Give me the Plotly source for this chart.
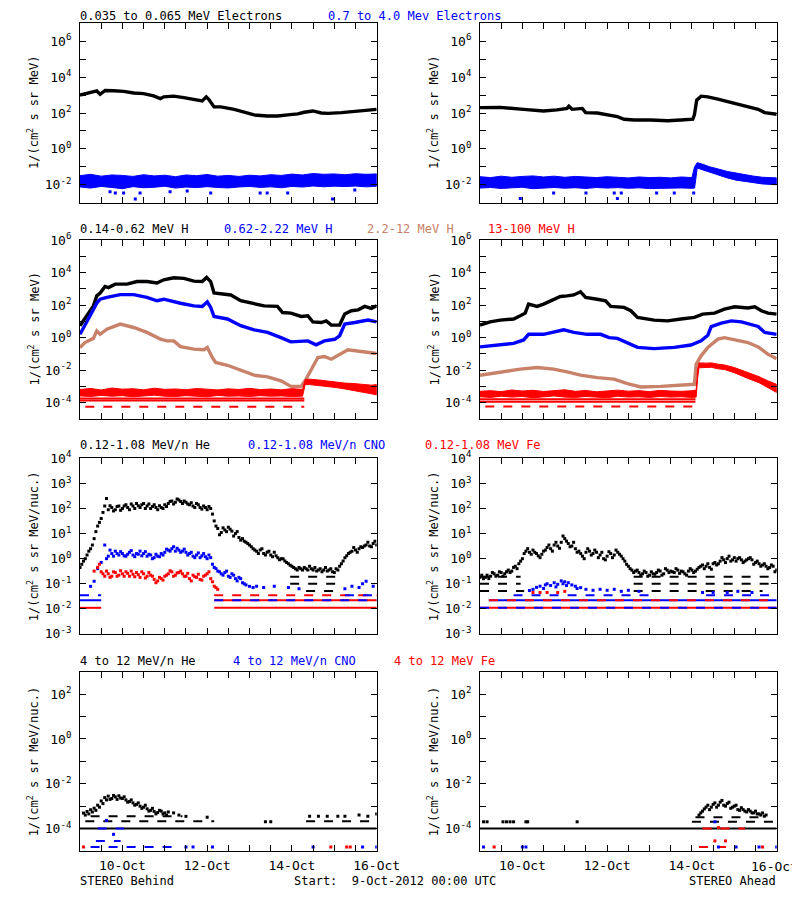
import plotly.graph_objects as go
from datetime import datetime, timedelta

START = datetime(2012, 10, 9)

# ================= DATA (hours since 9-Oct-2012 00:00 UTC, fluxes) =================
# ---- Row 1: electrons ----
beh_elo_h = [0,3.8,7.6,9.5,11.4,14.2,19,24.7,30.4,36,41.7,45.5,47.4,53,58.8,64.5,69.2,71.5,73,75.9,79.7,87.3,93,98.6,106,112,117.6,123.3,127,131.8,136.6,140.4,148,155.6,163,168]
beh_elo = [1.0e3,1.26e3,1.6e3,1.7e3,1.1e3,1.8e3,1.75e3,1.6e3,1.3e3,1.2e3,9.0e2,6.3e2,8.0e2,8.7e2,7.2e2,5.6e2,4.7e2,7.9e2,5.6e2,2.2e2,2.2e2,1.6e2,1.1e2,7.8e1,6.8e1,6.8e1,7.9e1,9.0e1,1.1e2,1.3e2,1.0e2,9.5e1,1.05e2,1.25e2,1.4e2,1.6e2]

beh_ehi_h = [0,6,12,18,24,30,36,42,48,54,60,66,72,78,84,90,96,102,108,114,120,126,132,138,144,150,156,162,168]
beh_ehi_up = [3.2e-2,3.8e-2,3.0e-2,3.5e-2,3.3e-2,2.9e-2,3.6e-2,3.1e-2,3.4e-2,2.8e-2,3.5e-2,3.2e-2,3.7e-2,3.0e-2,3.3e-2,2.9e-2,3.4e-2,3.1e-2,3.6e-2,3.3e-2,3.9e-2,3.5e-2,4.2e-2,3.8e-2,4.0e-2,3.6e-2,4.1e-2,3.8e-2,4.0e-2]
beh_ehi_lo = [7.5e-3,6.5e-3,8.0e-3,7.0e-3,6.0e-3,7.8e-3,6.8e-3,7.2e-3,8.2e-3,6.5e-3,7.4e-3,6.9e-3,7.8e-3,7.0e-3,6.6e-3,7.5e-3,8.0e-3,7.1e-3,7.6e-3,6.8e-3,8.0e-3,7.4e-3,8.5e-3,7.7e-3,8.3e-3,7.9e-3,8.4e-3,7.6e-3,8.2e-3]
beh_ehi_out_h = [17,20,24.7,31.3,34,51,60.7,74,102,106,117.6,143,155.6]
beh_ehi_out = [4e-3,3.5e-3,3.5e-3,1.6e-3,3.5e-3,4e-3,4.5e-3,3.5e-3,3.5e-3,3.5e-3,3.5e-3,1.6e-3,5e-3]

ahd_elo_h = [0,11.4,24.7,36,43.6,49.3,50.3,52.2,57.9,59.8,66.4,72,77.8,81.6,87.3,96.7,106.2,113.8,120.5,121.4,122.7,125.2,129,134.7,144.2,153.7,157.5,161.2,168]
ahd_elo = [2.0e2,2.05e2,1.6e2,1.3e2,1.5e2,1.8e2,2.4e2,1.6e2,1.8e2,1.05e2,1.0e2,7.8e1,6.3e1,4.5e1,4.1e1,4.1e1,3.7e1,4.1e1,4.5e1,7.8e1,5.2e2,8.7e2,8.0e2,6.0e2,3.5e2,2.0e2,1.6e2,1.05e2,8.5e1]

ahd_ehi_h = [0,6,12,18,24,30,36,42,48,54,60,66,72,78,84,90,96,102,108,114,120,121.5,123,126,130,135,140,145,150,155,160,165,168]
ahd_ehi_up = [2.8e-2,2.5e-2,3.0e-2,2.6e-2,2.9e-2,3.1e-2,2.7e-2,3.0e-2,2.6e-2,2.9e-2,2.7e-2,2.5e-2,2.8e-2,2.6e-2,2.4e-2,2.7e-2,2.5e-2,2.6e-2,2.4e-2,2.7e-2,2.5e-2,1.0e-1,1.7e-1,1.4e-1,1.0e-1,7.5e-2,5.5e-2,4.5e-2,3.6e-2,3.0e-2,2.6e-2,2.4e-2,2.4e-2]
ahd_ehi_lo = [6.5e-3,7.0e-3,6.2e-3,6.8e-3,7.2e-3,6.0e-3,6.6e-3,7.0e-3,6.4e-3,6.8e-3,6.2e-3,7.0e-3,6.5e-3,6.9e-3,6.3e-3,6.7e-3,6.1e-3,6.8e-3,6.4e-3,6.6e-3,6.3e-3,6.5e-3,8.5e-2,7.0e-2,4.8e-2,3.4e-2,2.4e-2,1.8e-2,1.5e-2,1.3e-2,1.1e-2,1.0e-2,1.0e-2]
ahd_ehi_out_h = [22.8,41.7,60,76,77.8,80,100,110,121]
ahd_ehi_out = [1.7e-3,3.5e-3,3.5e-3,3.5e-3,1.7e-3,3.5e-3,3.5e-3,3.5e-3,3.5e-3]

# ---- Row 2: protons ----
beh_h1_h = [0,1.9,4.7,7.6,9.5,11.4,14.2,16.1,19.9,26.6,32.3,37.9,43.6,47.4,53.1,58.8,64.5,69.2,71.7,74,75.9,79.7,85.4,91,96.7,104.3,111.8,114.7,119.4,125.2,129,131.8,136.6,139.4,142.3,147,149.9,153.7,157.5,161.2,165,168]
beh_h1 = [5.4,11,35,90,370,550,1400,1200,1950,1950,2800,2800,2300,3600,4800,4400,3000,2800,5000,2800,550,480,420,185,130,90,83,35,32,20,22,9.3,8.5,10.7,5.9,5.9,28,45,51,83,63,90]
beh_h2_h = [0,2.8,5.7,9.5,11.4,15.2,22.8,30.4,37.9,43.6,47.4,56.9,64.5,69.2,72.1,74,75.9,83.5,91,98.6,106.2,113.8,119.4,129,133.7,138.4,144.2,147,149.9,155.6,163.1,168]
beh_h2 = [1.6,5.4,22,130,230,300,440,440,300,185,230,130,90,83,160,72,20,14,5.4,3.0,2.1,1.0,0.55,0.63,0.36,0.63,0.79,1.3,6.8,8.5,12,9.3]
beh_h3_h = [0,2.8,7.6,9.5,11.4,15.2,22.8,30.4,37.9,45.5,49.3,53.1,56.9,64.5,70.2,72.1,74.9,76.8,83.5,91,98.6,106.2,113.8,119.4,125.2,128,130.9,134.7,138.4,142.3,151.7,159.3,168]
beh_h3 = [0.25,0.5,0.9,2.6,1.6,3.3,6.8,4.2,2.1,0.81,0.63,0.63,0.28,0.195,0.18,0.25,0.06,0.03,0.02,0.0105,0.0049,0.0039,0.0022,0.001,0.001,0.0028,0.0115,0.06,0.069,0.047,0.18,0.135,0.105]
beh_h4_h = [0,6,12,18,24,30,36,42,48,54,60,66,72,78,84,90,96,102,108,114,120,126,127.5,130,135,140,145,150,155,160,165,168]
beh_h4_up = [6.5e-4,7.5e-4,6.0e-4,8.0e-4,6.8e-4,7.2e-4,6.2e-4,7.8e-4,6.6e-4,7.0e-4,6.3e-4,7.4e-4,6.8e-4,6.1e-4,7.1e-4,6.5e-4,7.6e-4,6.4e-4,6.9e-4,6.2e-4,7.3e-4,6.6e-4,2.6e-3,2.8e-3,2.5e-3,2.1e-3,1.8e-3,1.6e-3,1.5e-3,1.3e-3,1.2e-3,1.3e-3]
beh_h4_lo = [2.6e-4,2.4e-4,2.8e-4,2.5e-4,2.7e-4,2.3e-4,2.6e-4,2.9e-4,2.5e-4,2.4e-4,2.7e-4,2.6e-4,2.3e-4,2.8e-4,2.5e-4,2.6e-4,2.4e-4,2.7e-4,2.5e-4,2.6e-4,2.4e-4,2.5e-4,1.3e-3,1.3e-3,1.2e-3,1.0e-3,8.5e-4,7.0e-4,5.5e-4,4.5e-4,3.5e-4,3.0e-4]
beh2_floors_solid = [(0,127,1.8e-4,'H4'), (0,127,1.35e-4,'H4')]
beh2_floors_dashed = [(3,127,5.7e-5,'H4')]

ahd_h1_h = [0,5.7,11.4,19,22.8,25.6,27.5,32.3,36,39.8,45.5,49.3,53.1,56.9,59.8,66.4,71.1,74,81.6,85.4,89.2,98.6,106.2,113.8,121.4,126.1,132.8,138.4,144.2,151.7,155.6,159.3,163.1,168]
ahd_h1 = [5.9,9.3,12,14,22,32,115,83,115,185,340,370,420,660,300,230,185,83,72,45,17.5,12,10.7,14,17.5,28,32,56,79,66,79,45,32,28]
ahd_h2_h = [0,11.4,19,24.7,27.5,36,43.6,47.4,53.1,60.7,68.3,73.1,77.8,85.4,89.2,98.6,110,119.4,125.2,129,130.9,136.6,142.3,148,153.7,157.5,161.2,168]
ahd_h2 = [0.27,0.35,0.44,0.72,1.6,1.6,2.3,3.0,2.1,1.6,1.6,1.0,0.9,0.4,0.25,0.21,0.25,0.35,0.63,1.4,4.7,7.8,10.7,9.3,6.8,4.9,2.1,1.6]
ahd_h3_h = [0,11.4,22.8,32.3,41.7,49.3,56.9,66.4,75.9,83.5,91,102.4,115.7,121.4,122.4,125.2,129,134.7,138.4,144.2,151.7,157.5,163.1,168]
ahd_h3 = [0.0049,0.0078,0.0115,0.0145,0.0115,0.0078,0.0049,0.0035,0.0028,0.0015,0.00093,0.001,0.0012,0.00135,0.023,0.076,0.25,0.81,1.0,0.72,0.5,0.27,0.095,0.051]
ahd_h4_h = [0,6,12,18,24,30,36,42,48,54,60,66,72,78,84,90,96,102,108,114,120,122.4,123.2,124,128,131,135,138.4,144,148,152,158,163,168]
ahd_h4_up = [5.0e-4,5.5e-4,4.8e-4,6.0e-4,5.2e-4,5.8e-4,4.9e-4,5.4e-4,6.2e-4,5.0e-4,5.6e-4,4.7e-4,5.3e-4,5.9e-4,5.1e-4,5.5e-4,4.8e-4,5.7e-4,5.2e-4,5.0e-4,5.4e-4,6e-4,1.2e-2,2.8e-2,2.7e-2,2.8e-2,2.3e-2,2.1e-2,1.45e-2,1.0e-2,6.5e-3,4.0e-3,2.2e-3,1.35e-3]
ahd_h4_lo = [2.3e-4,2.1e-4,2.5e-4,2.2e-4,2.4e-4,2.0e-4,2.3e-4,2.6e-4,2.2e-4,2.1e-4,2.4e-4,2.3e-4,2.0e-4,2.5e-4,2.2e-4,2.3e-4,2.1e-4,2.4e-4,2.2e-4,2.3e-4,2.1e-4,2.2e-4,3e-3,1.4e-2,1.4e-2,1.5e-2,1.2e-2,1.1e-2,7e-3,4.5e-3,3.0e-3,1.7e-3,8.5e-4,4.2e-4]
ahd2_floors_solid = [(0,122,1.6e-4,'H4'), (0,122,1.15e-4,'H4')]
ahd2_floors_dashed = [(3,122,5.8e-5,'H4')]

# ---- Row 3: 0.12-1.08 MeV/n ions ----
he_even_h = list(range(0, 169, 2))
he_odd_h = list(range(1, 168, 2))
beh_he_even = [0.45,0.8,1.4,2.5,6.3,20,40,125,90,110,90,125,100,140,90,125,160,110,160,125,100,140,90,110,140,160,200,180,220,160,180,140,125,160,110,125,90,100,32,16,11,14,18,12.6,10,7,6.3,4.5,3.5,2.5,2.0,2.2,1.6,1.8,1.4,1.8,1.1,1.0,0.8,0.63,0.5,0.4,0.45,0.35,0.4,0.5,0.35,0.32,0.4,0.35,0.32,0.4,0.28,0.35,0.63,1.1,1.6,2.0,2.2,2.5,2.8,3.5,3.2,4.0,3.5]
beh_he_odd = [0.6,1.0,2.0,3.5,12,28,70,250,130,80,120,85,125,110,150,100,130,140,100,150,120,110,130,100,120,190,150,240,190,200,150,170,110,140,95,110,120,60,20,9,17,12,15,8,12,5.5,5,4,3,2.2,1.6,2.5,1.4,2.0,1.2,1.3,0.9,1.0,0.7,0.55,0.45,0.35,0.4,0.45,0.35,0.4,0.45,0.35,0.3,0.45,0.35,0.3,0.4,0.5,0.8,1.3,1.8,2.8,1.8,3.0,3.2,4.5,3.0,5.0]
beh_cno_h = list(range(6, 101, 2))
beh_cno = [0.079,0.126,0.4,0.71,3.5,1.26,1.6,2.0,1.4,1.6,1.26,1.8,1.4,1.6,2.0,1.6,1.26,1.4,1.1,1.26,1.6,1.8,2.2,2.5,2.0,2.2,2.0,1.8,1.6,1.26,1.4,1.1,1.6,1.0,1.1,0.45,0.32,0.25,0.28,0.2,0.25,0.16,0.18,0.11,0.09,0.079,0.071,0.079]
beh_cno2_h = list(range(15, 94, 2))
beh_cno2 = [1.0,2.2,1.26,1.6,1.9,1.3,1.5,2.1,1.2,1.5,1.3,1.9,1.5,1.0,1.5,1.2,1.4,2.4,2.0,3.0,2.6,1.8,2.4,1.4,1.8,1.1,1.7,1.3,1.2,1.4,0.6,0.4,0.3,0.22,0.32,0.18,0.22,0.13,0.16,0.1]
beh_cno_sp_h = [104,110,118,124,150,154,158,160,162,166]
beh_cno_sp = [0.071,0.079,0.071,0.063,0.063,0.079,0.071,0.1,0.126,0.079]
beh_fe_h = list(range(8, 79, 2))
beh_fe = [0.32,0.45,0.3,0.2,0.25,0.2,0.28,0.22,0.25,0.3,0.2,0.24,0.28,0.18,0.25,0.2,0.22,0.15,0.13,0.16,0.2,0.25,0.3,0.22,0.28,0.25,0.2,0.16,0.22,0.18,0.15,0.2,0.25,0.16,0.08,0.06]
beh_fe2_h = list(range(11, 78, 2))
beh_fe2 = [0.6,0.25,0.32,0.18,0.3,0.2,0.33,0.2,0.26,0.32,0.19,0.23,0.3,0.17,0.28,0.2,0.11,0.18,0.14,0.22,0.33,0.2,0.27,0.32,0.2,0.26,0.13,0.19,0.24,0.14,0.22,0.3,0.12,0.07]
beh3_floors_solid = [(0,12,0.022,'CNO'), (0,12,0.011,'Fe'), (76,168,0.022,'Fe'), (76,168,0.011,'Fe')]
beh3_floors_dashed = [(0,12,0.035,'CNO'), (76,168,0.035,'Fe'), (150,168,0.035,'CNO'), (76,168,0.022,'CNO'),
                      (119,147,0.19,'He'), (119,147,0.1,'He'), (128,147,0.051,'He')]

ahd_he_even = [0.18,0.16,0.22,0.2,0.25,0.22,0.28,0.25,0.35,0.32,0.5,0.63,1.0,2.0,1.8,2.2,1.6,1.1,2.0,2.8,2.5,3.5,3.2,4.5,6.3,4.0,3.2,2.5,2.0,1.26,1.8,2.0,1.6,1.8,1.4,1.0,1.26,1.6,1.4,1.8,1.26,0.8,0.5,0.35,0.32,0.28,0.25,0.28,0.22,0.25,0.28,0.32,0.25,0.35,0.32,0.28,0.35,0.32,0.25,0.32,0.35,0.32,0.45,0.56,0.5,0.45,0.63,0.56,0.8,0.9,1.0,0.8,1.1,1.0,0.9,0.8,1.0,0.9,0.7,0.63,0.56,0.5,0.45,0.5,0.35]
ahd_he_odd = [0.22,0.18,0.16,0.28,0.2,0.3,0.2,0.3,0.28,0.45,0.4,0.8,1.6,2.5,1.5,1.8,1.3,1.5,2.2,3.5,2.0,4.5,2.6,8.0,5.0,3.0,4.5,1.8,1.6,1.0,2.5,1.4,2.2,1.1,1.8,0.9,1.9,1.1,2.2,1.5,1.0,0.6,0.4,0.28,0.35,0.22,0.32,0.2,0.3,0.24,0.35,0.22,0.4,0.28,0.3,0.4,0.26,0.3,0.22,0.4,0.28,0.38,0.5,0.4,0.63,0.38,0.7,0.63,1.1,0.7,1.26,0.9,0.8,1.1,0.7,0.9,1.1,0.6,0.8,0.5,0.63,0.4,0.56,0.3]
ahd_cno_h = [28,30,32,34,36,37,38,40,42,43,44,46,47,48,49,50,52,54,55,57,60,64,68,72,76,80,84,90,126,132,140,146,154]
ahd_cno = [0.054,0.06,0.072,0.08,0.065,0.09,0.1,0.085,0.11,0.075,0.095,0.13,0.1,0.12,0.085,0.11,0.09,0.08,0.065,0.07,0.06,0.055,0.06,0.055,0.06,0.05,0.055,0.05,0.045,0.045,0.045,0.05,0.045]
ahd_fe_h = [30,34,38,44,48]
ahd_fe = [0.045,0.045,0.045,0.045,0.05]
ahd3_floors_solid = [(0,168,0.011,'Fe'), (5,168,0.022,'CNO')]
ahd3_floors_dashed = [(0,168,0.011,'CNO'), (5,168,0.022,'Fe'), (19,100,0.035,'CNO'), (128,168,0.035,'CNO'),
                      (0,23,0.19,'He'), (87,168,0.19,'He'), (0,23,0.1,'He'), (87,168,0.1,'He'),
                      (0,25,0.051,'He'), (87,160,0.051,'He')]

# ---- Row 4: 4-12 MeV/n ions ----
beh_he4_h = list(range(2, 51))
beh_he4 = [4.9e-4,4.0e-4,5.8e-4,4.5e-4,6.9e-4,5.5e-4,8.1e-4,6.5e-4,1.1e-3,9e-4,1.7e-3,1.3e-3,2.4e-3,1.9e-3,2.8e-3,2.0e-3,2.2e-3,3.0e-3,2.6e-3,2.0e-3,2.9e-3,2.3e-3,2.2e-3,2.6e-3,1.9e-3,1.5e-3,1.6e-3,1.9e-3,1.4e-3,1.1e-3,1.2e-3,1.4e-3,1.0e-3,8e-4,9.0e-4,1.1e-3,7.6e-4,6e-4,6.5e-4,8e-4,5.8e-4,4.5e-4,5.2e-4,6.5e-4,6.0e-4,4.5e-4,5.0e-4,4.0e-4,5.5e-4]
beh_he4_sp_h = [53,56,60,72,105,108,130,135,140,146,150,158,163,168]
beh_he4_sp = [5e-4,4e-4,3.5e-4,3.2e-4,2e-4,2e-4,3.5e-4,3.5e-4,3.5e-4,3.5e-4,3.5e-4,4e-4,3.5e-4,4.5e-4]
beh_cno4_h = [15,19,60,64,75,132,160,168]
beh_cno4 = [2.3e-4,5.5e-5,1.5e-5,1.5e-5,1.5e-5,1.5e-5,1.5e-5,1.5e-5]
beh_fe4_h = [2,142,151,153]
beh_fe4 = [1.5e-5,1.5e-5,1.5e-5,1.5e-5]
beh4_floors_solid = [(0,168,1e-4,'He')]
beh4_floors_dashed = [(6,58,3.5e-4,'He'), (3,76,2.1e-4,'He'), (128,168,2.1e-4,'He'), (10,25,1e-4,'CNO'),
                      (6,52,1.5e-5,'CNO'), (9,23,2.8e-5,'CNO')]

ahd_he4_h = list(range(124, 163))
ahd_he4 = [4.0e-4,5e-4,6.0e-4,7.5e-4,9e-4,1.1e-3,7e-4,9e-4,1.2e-3,1.4e-3,9e-4,1.1e-3,1.5e-3,1.8e-3,1.1e-3,1.0e-3,1.3e-3,1.5e-3,8e-4,9e-4,1.0e-3,1.1e-3,7e-4,6.5e-4,8.5e-4,7e-4,6e-4,5.5e-4,7e-4,6e-4,5e-4,5e-4,6e-4,4.5e-4,4.5e-4,4e-4,5e-4,3.5e-4,4e-4]
ahd_he4_sp_h = [2,4,13,15,17,19,26,27,55]
ahd_he4_sp = [2e-4,2e-4,2e-4,2e-4,2e-4,2e-4,2e-4,2e-4,2e-4]
ahd_cno4_h = [2,24,26,133,135,145,158,168]
ahd_cno4 = [1.5e-5,1.5e-5,1.5e-5,2.0e-4,1.5e-5,1.5e-5,1.5e-5,1.5e-5]
ahd_fe4_h = [8,133,135,139,160]
ahd_fe4 = [1.5e-5,2.8e-5,1.1e-4,2.8e-5,1.5e-5]
ahd4_floors_solid = [(0,168,1e-4,'He')]
ahd4_floors_dashed = [(122,158,3.2e-4,'He'), (120,168,2.0e-4,'He'), (126,150,1e-4,'Fe'), (124,145,1.5e-5,'Fe')]

# ---- text ----
row_titles = [
    [("0.035 to 0.065 MeV Electrons", 80, 'k'), ("0.7 to 4.0 Mev Electrons", 328, 'b')],
    [("0.14-0.62 MeV H", 80, 'k'), ("0.62-2.22 MeV H", 224, 'b'), ("2.2-12 MeV H", 367, 'n'), ("13-100 MeV H", 488, 'r')],
    [("0.12-1.08 MeV/n He", 80, 'k'), ("0.12-1.08 MeV/n CNO", 248, 'b'), ("0.12-1.08 MeV Fe", 425, 'r')],
    [("4 to 12 MeV/n He", 80, 'k'), ("4 to 12 MeV/n CNO", 233, 'b'), ("4 to 12 MeV Fe", 394, 'r')],
]
y_titles = ["1/(cm<sup>2</sup> s sr MeV)", "1/(cm<sup>2</sup> s sr MeV)",
            "1/(cm<sup>2</sup> s sr MeV/nuc.)", "1/(cm<sup>2</sup> s sr MeV/nuc.)"]
date_labels = {24: "10-Oct", 72: "12-Oct", 120: "14-Oct", 168: "16-Oct"}

# ================= STYLE / LAYOUT =================
BLACK = '#000000'; BLUE = '#0000ff'; BROWN = '#c8826a'; RED = '#ff0000'
CMAP = {'k': BLACK, 'b': BLUE, 'n': BROWN, 'r': RED}
SPC = {'He': BLACK, 'CNO': BLUE, 'Fe': RED, 'H4': RED}
FONT = "DejaVu Sans Mono"
OFF = 8                      # page body margin of the html page
W, H = 800 - OFF, 900 - OFF  # figure size so that it fits the window
ROW_PX = [(23.3, 202.7), (240.0, 419.0), (458.3, 634.0), (671.7, 851.0)]   # window pixels
COL_PX = [(80.0, 376.7), (480.0, 776.7)]
YRANGE = [(-3, 7), (-5, 6), (-3, 4), (-5, 3)]
YLABELED = [[-2, 0, 2, 4, 6], [-4, -2, 0, 2, 4, 6], [-3, -2, -1, 0, 1, 2, 3, 4], [-4, -2, 0, 2]]
TXT_DX = -2  # annotation padding compensation


def px(xw):
    return (xw - OFF) / W


def py(yw):
    return 1 - (yw - OFF) / H


fig = go.Figure()


def axid(k):
    return ('x' if k == 0 else f'x{k+1}', 'y' if k == 0 else f'y{k+1}')


def tx(hours):
    return [START + timedelta(hours=float(h)) for h in hours]


def add_line(k, h, v, color, width=3.4):
    assert len(h) == len(v), (k, len(h), len(v))
    xa, ya = axid(k)
    fig.add_trace(go.Scatter(x=tx(h), y=v, mode='lines', line=dict(color=color, width=width),
                             xaxis=xa, yaxis=ya, hoverinfo='skip', showlegend=False))


def add_pts(k, h, v, color, size=3):
    assert len(h) == len(v), (k, len(h), len(v))
    xa, ya = axid(k)
    fig.add_trace(go.Scatter(x=tx(h), y=v, mode='markers',
                             marker=dict(symbol='square', size=size, color=color, line=dict(width=0)),
                             xaxis=xa, yaxis=ya, hoverinfo='skip', showlegend=False))


def add_band(k, h, up, lo, color):
    assert len(h) == len(up) == len(lo), (k, len(h), len(up), len(lo))
    xa, ya = axid(k)
    fig.add_trace(go.Scatter(x=tx(h) + tx(h[::-1]), y=list(up) + list(lo[::-1]), mode='lines',
                             fill='toself', fillcolor=color, line=dict(color=color, width=1),
                             xaxis=xa, yaxis=ya, hoverinfo='skip', showlegend=False))


def add_floors(k, segs, dash):
    xa, ya = axid(k)
    for h0, h1, lev, sp in segs:
        fig.add_trace(go.Scatter(x=tx([h0, h1]), y=[lev, lev], mode='lines',
                                 line=dict(color=SPC[sp], width=2, dash='solid' if dash is None else dash),
                                 xaxis=xa, yaxis=ya, hoverinfo='skip', showlegend=False))


# Row 1
add_line(0, beh_elo_h, beh_elo, BLACK)
add_band(0, beh_ehi_h, beh_ehi_up, beh_ehi_lo, BLUE)
add_pts(0, beh_ehi_out_h, beh_ehi_out, BLUE)
add_line(1, ahd_elo_h, ahd_elo, BLACK)
add_band(1, ahd_ehi_h, ahd_ehi_up, ahd_ehi_lo, BLUE)
add_pts(1, ahd_ehi_out_h, ahd_ehi_out, BLUE)
# Row 2
add_line(2, beh_h1_h, beh_h1, BLACK)
add_line(2, beh_h2_h, beh_h2, BLUE)
add_line(2, beh_h3_h, beh_h3, BROWN)
add_floors(2, beh2_floors_solid, None)
add_floors(2, beh2_floors_dashed, 'dash')
add_band(2, beh_h4_h, beh_h4_up, beh_h4_lo, RED)
add_line(3, ahd_h1_h, ahd_h1, BLACK)
add_line(3, ahd_h2_h, ahd_h2, BLUE)
add_line(3, ahd_h3_h, ahd_h3, BROWN)
add_floors(3, ahd2_floors_solid, None)
add_floors(3, ahd2_floors_dashed, 'dash')
add_band(3, ahd_h4_h, ahd_h4_up, ahd_h4_lo, RED)
# Row 3
add_floors(4, beh3_floors_solid, None)
add_floors(4, beh3_floors_dashed, 'dash')
add_pts(4, he_even_h, beh_he_even, BLACK)
add_pts(4, he_odd_h, beh_he_odd, BLACK)
add_pts(4, beh_cno_h, beh_cno, BLUE)
add_pts(4, beh_cno2_h, beh_cno2, BLUE)
add_pts(4, beh_cno_sp_h, beh_cno_sp, BLUE)
add_pts(4, beh_fe_h, beh_fe, RED)
add_pts(4, beh_fe2_h, beh_fe2, RED)
add_floors(5, ahd3_floors_solid, None)
add_floors(5, ahd3_floors_dashed, 'dash')
add_pts(5, he_even_h, ahd_he_even, BLACK)
add_pts(5, he_odd_h, ahd_he_odd, BLACK)
add_pts(5, ahd_cno_h, ahd_cno, BLUE)
add_pts(5, ahd_fe_h, ahd_fe, RED)
# Row 4
add_floors(6, beh4_floors_solid, None)
add_floors(6, beh4_floors_dashed, 'dash')
add_pts(6, beh_he4_h, beh_he4, BLACK)
add_pts(6, beh_he4_sp_h, beh_he4_sp, BLACK)
add_pts(6, beh_cno4_h, beh_cno4, BLUE)
add_pts(6, beh_fe4_h, beh_fe4, RED)
add_floors(7, ahd4_floors_solid, None)
add_floors(7, ahd4_floors_dashed, 'dash')
add_pts(7, ahd_he4_h, ahd_he4, BLACK)
add_pts(7, ahd_he4_sp_h, ahd_he4_sp, BLACK)
add_pts(7, ahd_cno4_h, ahd_cno4, BLUE)
add_pts(7, ahd_fe4_h, ahd_fe4, RED)

# Axes
xt_hours = list(range(0, 169, 12))
layout = dict(width=W, height=H, margin=dict(l=0, r=0, t=0, b=0, autoexpand=False),
              paper_bgcolor='white', plot_bgcolor='white', showlegend=False,
              font=dict(family=FONT, size=12, color='black'))
for k in range(8):
    r, c = divmod(k, 2)
    x0, x1 = COL_PX[c]
    y0, y1 = ROW_PX[r]
    xa, ya = axid(k)
    xkey = 'xaxis' if k == 0 else f'xaxis{k+1}'
    ykey = 'yaxis' if k == 0 else f'yaxis{k+1}'
    lo, hi = YRANGE[r]
    yt = [10.0 ** e for e in range(lo, hi + 1)]
    ytt = [f"10<sup>{e}</sup>" if e in YLABELED[r] else "" for e in range(lo, hi + 1)]
    # right-most label of the right column is drawn as an annotation (it runs past the page edge)
    xtt = [(date_labels.get(h, "") if not (c == 1 and h == 168) else "") if r == 3 else "" for h in xt_hours]
    layout[xkey] = dict(domain=[px(x0), px(x1)], anchor=ya, type='date', automargin=False,
                        range=[START, START + timedelta(hours=168)],
                        tickmode='array', tickvals=tx(xt_hours), ticktext=xtt,
                        ticks='inside', ticklen=6, tickwidth=1, tickcolor='black',
                        showline=True, linecolor='black', linewidth=1, mirror='ticks',
                        showgrid=False, zeroline=False, ticklabelstandoff=2,
                        tickfont=dict(family=FONT, size=13, color='black'))
    layout[ykey] = dict(domain=[py(y1), py(y0)], anchor=xa, type='log', automargin=False,
                        range=[lo - 0.003, hi + 0.003],
                        tickmode='array', tickvals=yt, ticktext=ytt,
                        ticks='inside', ticklen=6, tickwidth=1, tickcolor='black',
                        showline=True, linecolor='black', linewidth=1, mirror='ticks',
                        showgrid=False, zeroline=False, ticklabelstandoff=5,
                        tickfont=dict(family=FONT, size=13, color='black'))
fig.update_layout(**layout)

ann = []
title_y = [16, 229, 445, 661]
for r, items in enumerate(row_titles):
    for text, xp, col in items:
        ann.append(dict(text=text, x=px(xp + TXT_DX), y=py(title_y[r]), xref='paper', yref='paper',
                        xanchor='left', yanchor='middle', showarrow=False,
                        font=dict(family=FONT, size=12, color=CMAP[col])))
for r in range(4):
    yc = (ROW_PX[r][0] + ROW_PX[r][1]) / 2
    for c in range(2):
        ann.append(dict(text=y_titles[r], x=px(33 + 400 * c), y=py(yc), xref='paper', yref='paper',
                        xanchor='center', yanchor='middle', showarrow=False, textangle=-90,
                        font=dict(family=FONT, size=12, color='black')))
ann.append(dict(text=date_labels[168], x=1.0, y=py(866), xref='paper', yref='paper',
                xanchor='right', yanchor='middle', showarrow=False, font=dict(family=FONT, size=13)))
ann.append(dict(text="STEREO Behind", x=px(80 + TXT_DX), y=py(881), xref='paper', yref='paper',
                xanchor='left', yanchor='middle', showarrow=False, font=dict(family=FONT, size=12)))
ann.append(dict(text="Start:\u00a0\u00a09-Oct-2012\u00a000:00\u00a0UTC", x=px(294 + TXT_DX), y=py(881),
                xref='paper', yref='paper', xanchor='left', yanchor='middle', showarrow=False,
                font=dict(family=FONT, size=12)))
ann.append(dict(text="STEREO Ahead", x=px(776 - TXT_DX), y=py(881), xref='paper', yref='paper',
                xanchor='right', yanchor='middle', showarrow=False, font=dict(family=FONT, size=12)))
fig.update_layout(annotations=ann)

fig.write_html("out.html")
